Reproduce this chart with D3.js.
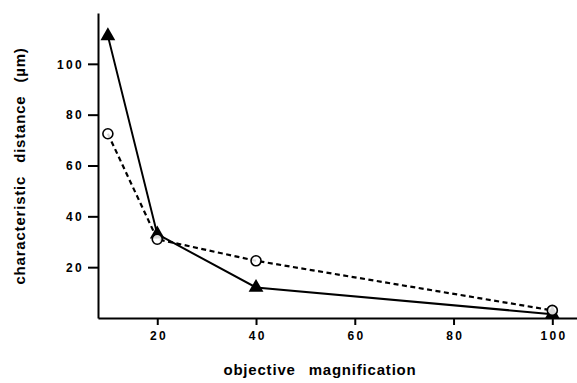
<!DOCTYPE html>
<html>
<head>
<meta charset="utf-8">
<title>characteristic distance vs objective magnification</title>
<script src="https://d3js.org/d3.v7.min.js"></script>
<style>
  body { margin: 0; background: #fff; }
  text { font-family: "Liberation Sans", Arial, sans-serif; font-weight: bold; fill: #000; }
  .tick text { font-size: 12px; letter-spacing: 2.3px; }
  .title { font-size: 15px; letter-spacing: 0.8px; word-spacing: 8px; }
</style>
</head>
<body>
<script>
// data
var magnification = [10, 20, 40, 100];
var triangleSeries = [111, 33, 12, 1.5];   // solid line, filled triangles
var circleSeries = [72.5, 31, 22.5, 3];    // dashed line, open circles
var xTicks = [20, 40, 60, 80, 100];
var yTicks = [20, 40, 60, 80, 100];

var W = 577, H = 383;
var margin = {top: 13, right: 0, bottom: 65, left: 98};
var width = W - margin.left - margin.right,
    height = H - margin.top - margin.bottom;

var svg = d3.select("body").append("svg")
    .attr("width", W)
    .attr("height", H);

var g = svg.append("g")
    .attr("transform", "translate(" + margin.left + "," + margin.top + ")");

// scales
var x = d3.scaleLinear().domain([8, 105]).range([0, width]);
var y = d3.scaleLinear().domain([0, 120]).range([height, 0]);

// axes
var xAxis = g.append("g")
    .attr("transform", "translate(0," + height + ")")
    .call(d3.axisBottom(x).tickValues(xTicks).tickSize(7).tickPadding(6).tickSizeOuter(0));
var yAxis = g.append("g")
    .call(d3.axisLeft(y).tickValues(yTicks).tickSize(10).tickPadding(4).tickSizeOuter(0));

[xAxis, yAxis].forEach(function(a) {
  a.select(".domain").attr("stroke", "#000").attr("stroke-width", 2);
  a.selectAll(".tick line").attr("stroke", "#000").attr("stroke-width", 2);
  a.selectAll(".tick text").attr("font-family", null).attr("font-size", null);
});
xAxis.selectAll(".tick text").attr("dx", "0.1em");
yAxis.selectAll(".tick text").attr("dy", "0.35em");

// lines
var line = d3.line()
    .x(function(d) { return x(d[0]); })
    .y(function(d) { return y(d[1]); });

var triData = magnification.map(function(m, i) { return [m, triangleSeries[i]]; });
var cirData = magnification.map(function(m, i) { return [m, circleSeries[i]]; });

g.append("path")
    .datum(cirData)
    .attr("fill", "none")
    .attr("stroke", "#000")
    .attr("stroke-width", 2.2)
    .attr("stroke-dasharray", "5,3.5")
    .attr("d", line);

g.append("path")
    .datum(triData)
    .attr("fill", "none")
    .attr("stroke", "#000")
    .attr("stroke-width", 2)
    .attr("d", line);

// markers
g.selectAll(".tri")
    .data(triData)
  .enter().append("path")
    .attr("class", "tri")
    .attr("transform", function(d) { return "translate(" + x(d[0]) + "," + y(d[1]) + ")"; })
    .attr("d", d3.symbol().type(d3.symbolTriangle).size(95))
    .attr("fill", "#000");

g.selectAll(".cir")
    .data(cirData)
  .enter().append("circle")
    .attr("class", "cir")
    .attr("cx", function(d) { return x(d[0]); })
    .attr("cy", function(d) { return y(d[1]); })
    .attr("r", 5)
    .attr("fill", "#fff")
    .attr("fill-opacity", 0.85)
    .attr("stroke", "#000")
    .attr("stroke-width", 1.6);

// axis titles
svg.append("text")
    .attr("class", "title")
    .attr("x", 320)
    .attr("y", 375)
    .attr("text-anchor", "middle")
    .text("objective magnification");

svg.append("text")
    .attr("class", "title")
    .attr("transform", "translate(25,166) rotate(-90)")
    .attr("text-anchor", "middle")
    .text("characteristic distance (\u00b5m)");
</script>
</body>
</html>
